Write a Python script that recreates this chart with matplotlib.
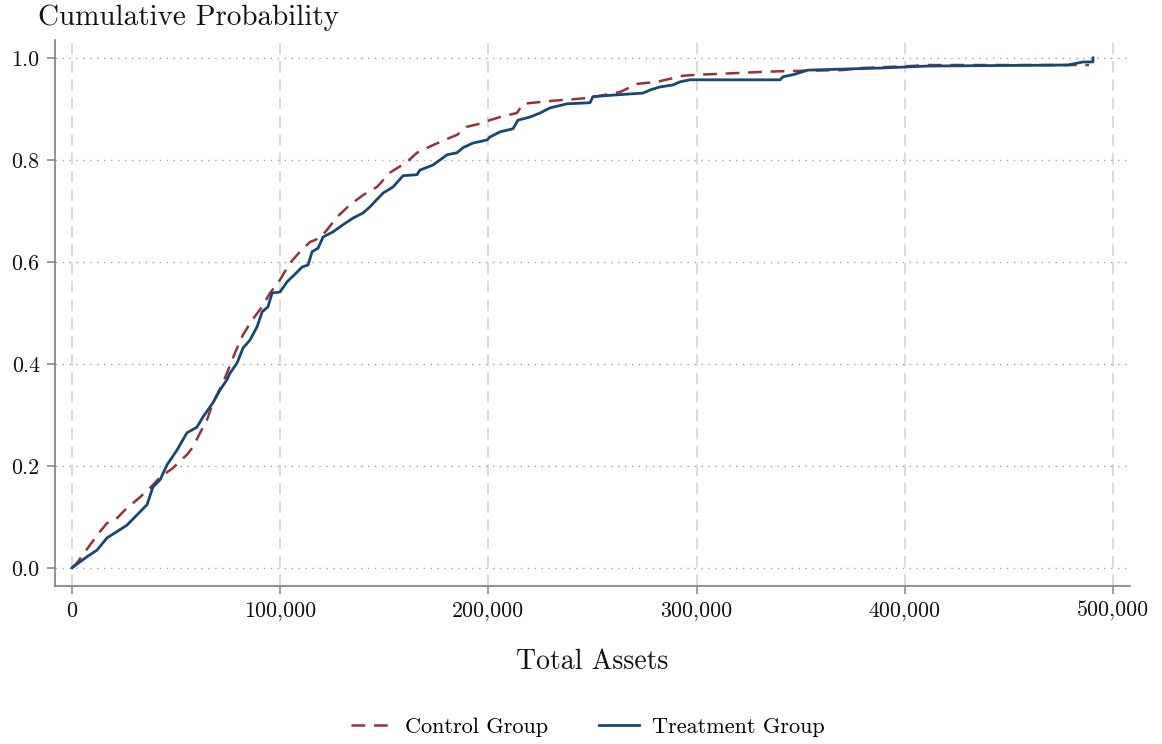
import numpy as np
import matplotlib
matplotlib.use("Agg")
import matplotlib.pyplot as plt
from matplotlib.ticker import FuncFormatter

plt.rcParams['font.family'] = ['cmr10', 'DejaVu Serif']
plt.rcParams['axes.formatter.use_mathtext'] = True

# knots (assets in thousands, cumulative share)
control_x = [0, 2.4, 8.6, 13.4, 16.8, 20.7, 25.5, 32.7, 37.5, 42.3, 48.5, 55.2, 58.1,
             61.5, 64.8, 67.7, 72.5, 74.4, 78.3, 82.1, 86.5, 91.3, 95.1, 99.9, 104.7,
             109.5, 114.3, 119.1, 122.5, 127.3, 133.5, 139.8, 146.5, 152.7, 160.9,
             165.7, 173.4, 180.1, 184.9, 189.7, 196.0, 200.8, 205.6, 213.7, 216.6,
             231.0, 244.0, 248.8, 263.2, 271.4, 281.0, 293.5, 300.2, 312.7, 333.8,
             353.0, 370.3, 378.5, 402.5, 410.7, 488.5]
control_y = [0, 0.010, 0.045, 0.071, 0.088, 0.094, 0.114, 0.139, 0.157, 0.178, 0.196,
             0.222, 0.237, 0.265, 0.290, 0.324, 0.363, 0.382, 0.422, 0.457, 0.486,
             0.512, 0.539, 0.565, 0.598, 0.620, 0.639, 0.647, 0.663, 0.688, 0.712,
             0.731, 0.747, 0.775, 0.796, 0.814, 0.829, 0.841, 0.849, 0.865, 0.871,
             0.878, 0.884, 0.892, 0.910, 0.916, 0.920, 0.922, 0.933, 0.949, 0.953,
             0.965, 0.967, 0.969, 0.973, 0.975, 0.976, 0.980, 0.984, 0.986, 0.986]

treat_x = [0, 0.5, 7.2, 12.0, 16.8, 20.7, 26.4, 31.2, 36.0, 38.9, 42.3, 45.6, 50.4,
           55.2, 60.0, 62.9, 67.7, 71.1, 74.4, 75.9, 79.3, 82.1, 85.5, 88.9, 91.3,
           94.1, 96.1, 99.9, 103.3, 108.1, 110.5, 113.4, 115.3, 118.2, 120.6, 125.4,
           130.2, 135.0, 139.8, 143.1, 149.4, 154.2, 159.0, 165.7, 167.1, 173.4,
           176.8, 180.1, 184.9, 187.8, 192.6, 199.3, 200.8, 205.6, 211.8, 214.2,
           220.0, 224.8, 229.6, 237.8, 248.8, 250.2, 259.8, 274.3, 277.6, 282.4,
           288.7, 292.0, 296.8, 340.1, 341.5, 346.3, 353.5, 369.8, 388.1, 411.1,
           478.4, 485.6, 490.4, 490.4]
treat_y = [0, 0.002, 0.022, 0.035, 0.059, 0.069, 0.084, 0.104, 0.124, 0.159, 0.173,
           0.202, 0.231, 0.265, 0.276, 0.296, 0.324, 0.349, 0.369, 0.382, 0.402,
           0.431, 0.447, 0.473, 0.502, 0.512, 0.539, 0.541, 0.561, 0.580, 0.590,
           0.594, 0.620, 0.627, 0.649, 0.659, 0.673, 0.686, 0.696, 0.708, 0.735,
           0.747, 0.769, 0.771, 0.780, 0.790, 0.800, 0.810, 0.814, 0.824, 0.833,
           0.839, 0.845, 0.855, 0.861, 0.878, 0.884, 0.892, 0.902, 0.910, 0.912,
           0.924, 0.927, 0.931, 0.937, 0.943, 0.947, 0.953, 0.957, 0.957, 0.963,
           0.967, 0.976, 0.978, 0.980, 0.984, 0.986, 0.992, 0.992, 1.000]

x_ticks = [0, 100000, 200000, 300000, 400000, 500000]
y_ticks = [0.0, 0.2, 0.4, 0.6, 0.8, 1.0]

red = '#90353b'
navy = '#1a476f'

fig = plt.figure(figsize=(11.62, 7.44), dpi=100)
ax = fig.add_axes([0.0473, 0.2124, 0.9252, 0.7338])

ax.plot(np.array(control_x) * 1000, control_y, color=red, lw=1.8,
        linestyle=(0, (5.5, 3.5)), label='Control Group', zorder=3)
ax.plot(np.array(treat_x) * 1000, treat_y, color=navy, lw=2.0,
        label='Treatment Group', zorder=4)

ax.set_xlim(-8200, 508200)
ax.set_ylim(-0.0353, 1.035)
ax.set_xticks(x_ticks)
ax.set_yticks(y_ticks)
ax.xaxis.set_major_formatter(FuncFormatter(lambda v, p: f"{v:,.0f}"))
ax.yaxis.set_major_formatter(FuncFormatter(lambda v, p: f"{v:.1f}"))

ax.xaxis.grid(True, linestyle=(0, (7, 4)), color='#d4d4d4', lw=1.2)
ax.yaxis.grid(True, linestyle=(0, (1, 4)), color='#a0a0a0', lw=1.0)
ax.set_axisbelow(True)

for s in ['top', 'right']:
    ax.spines[s].set_visible(False)
for s in ['left', 'bottom']:
    ax.spines[s].set_color('#808080')
    ax.spines[s].set_linewidth(1.2)
ax.tick_params(axis='both', colors='#808080', length=6, width=1.1,
               labelsize=15.8, labelcolor='#111111', pad=5)

fig.text(38 / 1162, 1 - 18 / 744, 'Cumulative Probability', fontsize=21,
         ha='left', va='center', color='#111111')
fig.text(592 / 1162, 1 - 662 / 744, 'Total Assets', fontsize=20,
         ha='center', va='center', color='#111111')

fig.legend(loc='center', bbox_to_anchor=(588 / 1162, 1 - 727 / 744), ncol=2,
           frameon=False, fontsize=16, handlelength=1.8, handletextpad=0.6,
           columnspacing=2.3)

fig.savefig('out.png', dpi=100)
